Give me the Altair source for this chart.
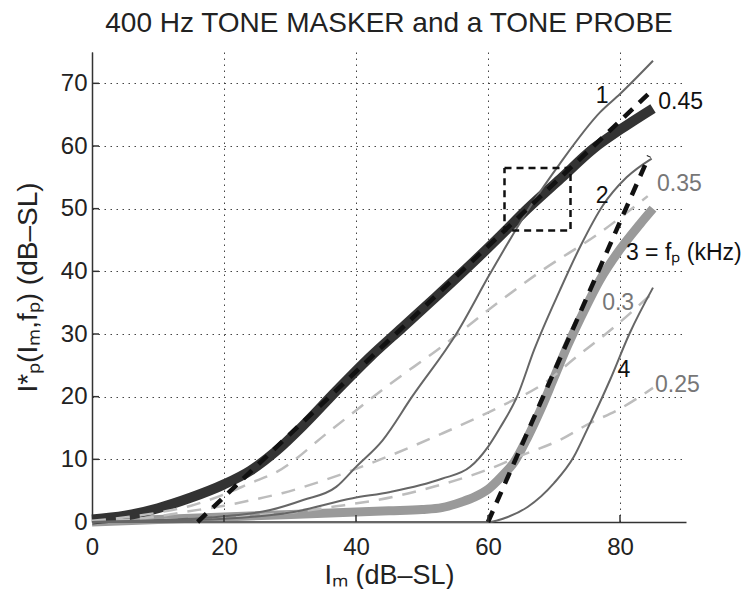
import altair as alt
import pandas as pd

FONT = "Liberation Sans"

# ---- data ----
dark_x = [0, 5, 10, 15, 20, 24, 28, 32, 37, 42, 47, 52, 57, 62, 66, 71, 76, 80, 85]
dark_y = [0.4, 1.0, 2.2, 3.9, 6.0, 8.2, 11.4, 15.4, 20.9, 26.2, 31, 35.8, 40.7, 45.8, 50, 54.8, 59.6, 62.6, 66]

gray_x = [0, 20, 40, 45, 50, 53, 56, 58, 60, 62, 64, 66, 68, 70, 72, 74, 77, 80, 83, 85]
gray_y = [0, 0.8, 1.6, 1.8, 2.0, 2.3, 3.2, 4.0, 5.2, 7.2, 9.6, 13.5, 18, 23, 28, 32.5, 38.7, 43.5, 47.5, 50]

c1_x = [0, 10, 20, 27, 32, 37, 40, 44, 48.5, 55.3, 60.3, 66.5, 70.9, 77, 80, 85]
c1_y = [0, 0.3, 0.9, 1.9, 3.5, 5.6, 8.8, 13, 20, 30.2, 39.6, 50.5, 57.2, 65.4, 68.3, 73.6]

c2_x = [0, 10, 20, 30, 39.5, 45.2, 53, 57.3, 60, 61.8, 64.4, 67, 70.9, 74, 77.4, 81, 84.8]
c2_y = [0, 0.2, 0.5, 1.5, 3.8, 4.8, 6.9, 8.8, 12, 15, 20, 27.5, 37, 44, 50.5, 55, 58]

c4_x = [0, 60, 63, 66, 70, 73, 75, 78.5, 81.5, 85]
c4_y = [0, 0, 0.8, 2.4, 6.2, 10.4, 14.7, 22.7, 30.2, 37.4]

l35_x = [0, 10, 15, 20, 24, 28, 36, 45, 53, 60, 68, 77, 84.2]
l35_y = [0.2, 1.5, 2.6, 4.4, 6.2, 8, 14.5, 21.9, 28, 33.8, 40, 46.2, 52]

l30_x = [0, 10, 14, 20, 25.5, 28.8, 35, 44.7, 53, 61.8, 69, 73, 79, 85]
l30_y = [0, 0.9, 1.6, 2.6, 3.8, 4.6, 6.6, 10.4, 14.1, 18.4, 22.5, 26, 31, 36.6]

l25_x = [0, 10, 20, 29, 37, 45.6, 52, 59.8, 65, 70.9, 75.5, 79.7, 85]
l25_y = [0, 0.3, 0.8, 1.4, 2.5, 4, 5.7, 8.3, 10.6, 13.1, 15.8, 17.9, 21.4]

k1_x = [16, 84.5]
k1_y = [0, 68.5]
k2_x = [60, 84.4]
k2_y = [0, 58.4]

box_x = [62.5, 72.5, 72.5, 62.5, 62.5]
box_y = [56.5, 56.5, 46.5, 46.5, 56.5]

lab_text = ["1", "0.45", "2", "0.35", "3 = fₚ (kHz)", "0.3", "4", "0.25"]
lab_x = [77.3, 85.8, 77.3, 85.6, 80.9, 77.3, 80.6, 85.3]
lab_y = [68, 67, 52, 54, 42.9, 34.9, 24.2, 21.9]
lab_align = ["center", "left", "center", "left", "left", "left", "center", "left"]
lab_color = ["#111111", "#111111", "#111111", "#777777", "#111111", "#777777", "#111111", "#777777"]

x_tick_values = [0, 20, 40, 60, 80]
y_tick_values = [0, 10, 20, 30, 40, 50, 60, 70]
x_ticks = [20, 40, 60, 80]
y_ticks = [10, 20, 30, 40, 50, 60, 70]

W, H = 594, 470

xs = alt.Scale(domain=[0, 90], nice=False, zero=False)
ys = alt.Scale(domain=[0, 75], nice=False, zero=False)

x_axis = alt.Axis(
    values=x_tick_values, ticks=False, labelPadding=13, labelFontSize=24, labelFlush=False,
    labelFont=FONT, labelColor="#222", domainColor="#333", domainWidth=1.5,
    grid=True, gridDash=[1.5, 4.5], gridColor="#444", gridWidth=1,
    title="Iₘ (dB–SL)", titleFont=FONT, titleFontSize=27, titleFontWeight="normal",
    titleColor="#222", titleX=297, titleY=53, titleBaseline="middle", titleAlign="center",
)
y_axis = alt.Axis(
    values=y_tick_values, ticks=False, labelPadding=5, labelFontSize=24, labelFlush=False,
    labelFont=FONT, labelColor="#222", domainColor="#333", domainWidth=1.5,
    grid=True, gridDash=[1.5, 4.5], gridColor="#444", gridWidth=1,
    title="I*ₚ(Iₘ,fₚ) (dB–SL)", titleFont=FONT, titleFontSize=28, titleFontWeight="normal",
    titleColor="#222", titleX=-64, titleY=235, titleBaseline="middle", titleAlign="center",
    titleAngle=270,
)


def X(field):
    return alt.X(field, scale=xs, axis=x_axis)


def Y(field):
    return alt.Y(field, scale=ys, axis=y_axis)


def frame(xv, yv, name):
    return pd.DataFrame({"x": xv, "y": yv, "s": name, "o": list(range(len(xv)))})


def line(df, color, width, dash=None, interp="linear"):
    kw = dict(color=color, strokeWidth=width, clip=False, strokeCap="butt",
              interpolate=interp)
    if dash:
        kw["strokeDash"] = dash
    return alt.Chart(df).mark_line(**kw).encode(
        x=X("x:Q"), y=Y("y:Q"), order="o:Q", detail="s:N")


light = pd.concat([frame(l35_x, l35_y, "0.35"), frame(l30_x, l30_y, "0.3"),
                   frame(l25_x, l25_y, "0.25")])
thin = pd.concat([frame(c1_x, c1_y, "1"), frame(c2_x, c2_y, "2"), frame(c4_x, c4_y, "4")])
blk = pd.concat([frame(k1_x, k1_y, "k1"), frame(k2_x, k2_y, "k2")])

layers = [
    line(frame(gray_x, gray_y, "3"), "#9a9a9a", 9, interp="monotone"),
    line(frame(dark_x, dark_y, "0.45"), "#333333", 10, interp="monotone"),
    line(light, "#bdbdbd", 2.5, [14, 10], interp="monotone"),
    line(thin, "#666666", 2, interp="monotone"),
    line(blk, "#111111", 4.5, [12, 9]),
    line(frame(box_x, box_y, "box"), "#111111", 2.5, [7, 5]),
]

xt = pd.DataFrame({"v": x_ticks})
yt = pd.DataFrame({"v": y_ticks})
layers.append(alt.Chart(xt).mark_rule(color="#333", strokeWidth=1.5).encode(
    x=X("v:Q"), y=alt.value(H), y2=alt.value(H - 7)))
layers.append(alt.Chart(yt).mark_rule(color="#333", strokeWidth=1.5).encode(
    y=Y("v:Q"), x=alt.value(0), x2=alt.value(7)))

labels = pd.DataFrame({"t": lab_text, "x": lab_x, "y": lab_y, "a": lab_align, "c": lab_color})
for al in ["left", "center"]:
    layers.append(alt.Chart(labels[labels.a == al]).mark_text(
        align=al, baseline="middle", fontSize=23, font=FONT).encode(
        x=X("x:Q"), y=Y("y:Q"),
        text="t:N", color=alt.Color("c:N", scale=None)))

chart = alt.layer(*layers).properties(
    width=W, height=H,
    title=alt.TitleParams("400 Hz TONE MASKER and a TONE PROBE", fontSize=28, font=FONT,
                          fontWeight="normal", color="#222", anchor="middle", offset=14),
    autosize=alt.AutoSizeParams(type="none"),
    padding={"left": 84, "top": 44, "right": 58, "bottom": 67},
).configure_view(strokeWidth=0)

chart.save("out.html", embed_options={"renderer": "svg", "actions": False})
